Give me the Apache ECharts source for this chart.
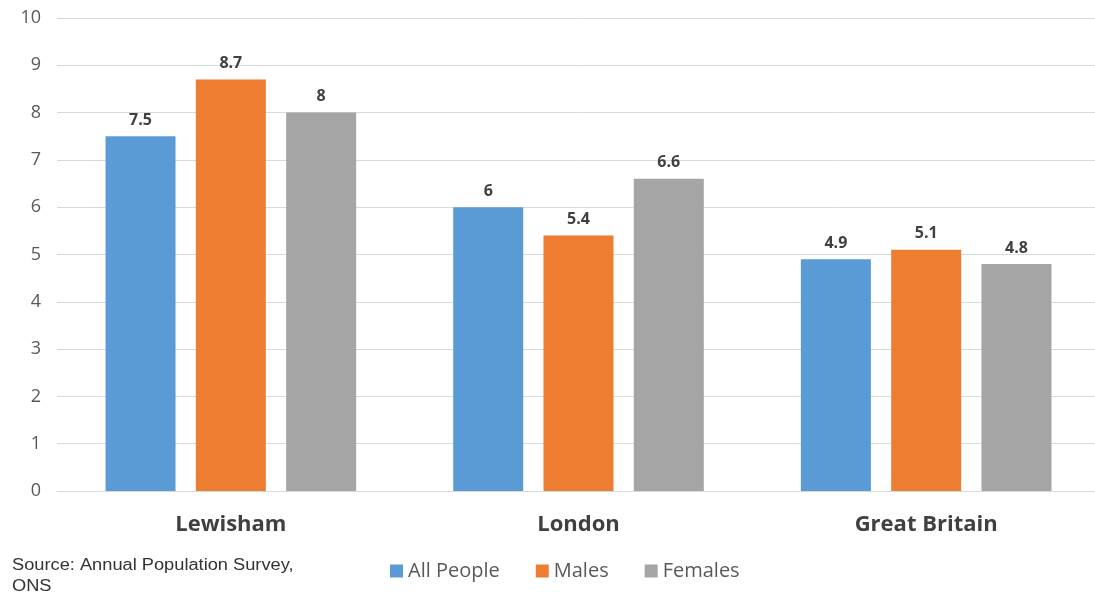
<!DOCTYPE html>
<html>
<head>
<meta charset="utf-8">
<script src="https://cdn.jsdelivr.net/npm/echarts@6/dist/echarts.min.js"></script>
<style>
html, body { margin: 0; padding: 0; background: #fff; }
#chart { width: 1095px; height: 592px; }
</style>
</head>
<body>
<div id="chart"></div>
<script>
// 数据
const categories = ['Lewisham', 'London', 'Great Britain']
const allPeople = [7.5, 6, 4.9]
const males = [8.7, 5.4, 5.1]
const females = [8, 6.6, 4.8]
const seriesNames = ['All People', 'Males', 'Females']
const colors = ['#5B9BD5', '#ED7D31', '#A5A5A5']

const chart = echarts.init(document.getElementById('chart'))

const labelStyle = {
  show: true,
  position: 'top',
  distance: 8,
  color: '#404040',
  fontWeight: 'bold',
  fontSize: 16,
  fontFamily: 'Open Sans'
}

chart.setOption({
  animation: false,
  textStyle: { fontFamily: 'Open Sans' },
  grid: { left: 57, width: 1043, top: 18, bottom: 101, outerBoundsMode: 'none', containLabel: false },
  legend: {
    data: seriesNames,
    bottom: 6,
    left: 385,
    itemWidth: 13,
    itemHeight: 13,
    itemGap: 36,
    icon: 'rect',
    textStyle: { color: '#595959', fontSize: 20 }
  },
  graphic: [{
    type: 'text',
    x: 12,
    y: 555,
    scaleX: 1.14,
    style: {
      text: 'Source: Annual Population Survey,\nONS',
      fill: '#333',
      font: '16px "Liberation Sans", Arial',
      lineHeight: 21
    }
  }],
  xAxis: {
    type: 'category',
    data: categories,
    axisLine: { lineStyle: { color: '#d9d9d9' } },
    axisTick: { show: false },
    axisLabel: { color: '#404040', fontSize: 22, fontWeight: 'bold', margin: 23 }
  },
  yAxis: {
    type: 'value',
    min: 0,
    max: 10,
    interval: 1,
    axisLine: { show: false },
    axisTick: { show: false },
    axisLabel: { color: '#595959', fontSize: 18, margin: 16, align: 'right' },
    splitLine: { lineStyle: { color: '#d9d9d9', width: 1 } }
  },
  series: [
    { name: seriesNames[0], type: 'bar', data: allPeople, barWidth: 70, barGap: '29%', itemStyle: { color: colors[0] }, label: labelStyle },
    { name: seriesNames[1], type: 'bar', data: males, barWidth: 70, barGap: '29%', itemStyle: { color: colors[1] }, label: labelStyle },
    { name: seriesNames[2], type: 'bar', data: females, barWidth: 70, barGap: '29%', itemStyle: { color: colors[2] }, label: labelStyle }
  ]
})
</script>
</body>
</html>
